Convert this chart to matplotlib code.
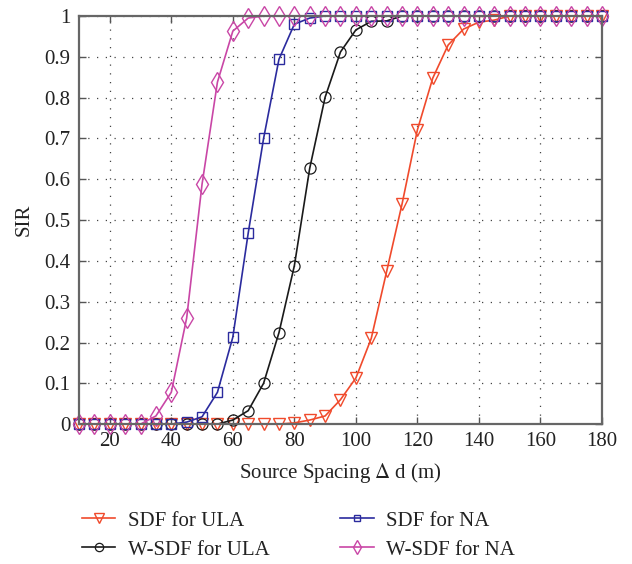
import matplotlib
matplotlib.use("Agg")
import matplotlib.pyplot as plt
import numpy as np

plt.rcParams['font.family'] = ['Liberation Serif', 'DejaVu Serif']
plt.rcParams['mathtext.fontset'] = 'stix'

spacing = list(range(10, 181, 5))

sdf_ula = [0, 0, 0, 0, 0, 0, 0, 0, 0, 0, 0, 0, 0, 0, 0.003, 0.01, 0.02, 0.06, 0.113, 0.21,
           0.374, 0.539, 0.721, 0.848, 0.929, 0.968, 0.985, 0.99, 1, 1, 1, 1, 1, 1, 1]
wsdf_ula = [0, 0, 0, 0, 0, 0, 0, 0, 0, 0, 0.01, 0.033, 0.1, 0.224, 0.388, 0.627, 0.801, 0.912,
            0.966, 0.987, 0.988, 1, 1, 1, 1, 1, 1, 1, 1, 1, 1, 1, 1, 1, 1]
sdf_na = [0, 0, 0, 0, 0, 0, 0, 0.005, 0.018, 0.078, 0.213, 0.468, 0.70, 0.894, 0.98, 0.995,
          1, 1, 1, 1, 1, 1, 1, 1, 1, 1, 1, 1, 1, 1, 1, 1, 1, 1, 1]
wsdf_na = [0, 0, 0, 0, 0, 0.02, 0.078, 0.26, 0.588, 0.838, 0.963, 0.995, 1, 1, 1, 1, 1, 1, 1,
           1, 1, 1, 1, 1, 1, 1, 1, 1, 1, 1, 1, 1, 1, 1, 1]

labels = ["SDF for ULA", "W-SDF for ULA", "SDF for NA", "W-SDF for NA"]

fig = plt.figure(figsize=(6.32, 5.64), dpi=100)
ax = fig.add_axes([0.125, 0.248, 0.8275, 0.7236])

kw = dict(lw=1.2, mfc='none', clip_on=False)
ax.plot(spacing, sdf_ula, color='#f04a2c', marker='v', ms=9, mew=1.0, label=labels[0], **kw)
ax.plot(spacing, wsdf_ula, color='#1a1a1a', marker='o', ms=8, mew=0.9, label=labels[1], **kw)
ax.plot(spacing, sdf_na, color='#2b2b9e', marker='s', ms=6.5, mew=1.0, label=labels[2], **kw)
ax.plot(spacing, wsdf_na, color='#c946a6', marker='d', ms=10, mew=1.0, label=labels[3], **kw)

ax.set_xlim(10, 180)
ax.set_ylim(0, 1)
ax.set_xticks(np.arange(20, 181, 20))
ax.set_yticks(np.arange(0, 1.01, 0.1))
ax.set_yticklabels(['0'] + [f'{v:.1f}' for v in np.arange(0.1, 0.95, 0.1)] + ['1'])
ax.grid(True, color='#444444', linestyle=(0, (1, 6)), lw=0.9)
ax.tick_params(direction='in', top=True, right=True, length=5, width=1, color='#555555',
               labelsize=15, labelcolor='#222222', pad=6)
for s in ax.spines.values():
    s.set_color('#666666')
    s.set_linewidth(1.6)

ax.set_xlabel('Source Spacing $\\Delta$ d (m)', fontsize=15, color='#222222', labelpad=7)
ax.set_ylabel('SIR', fontsize=15, color='#222222', labelpad=8)

fig.legend(loc='upper left', bbox_to_anchor=(0.1, 0.127), ncol=2, frameon=False,
           fontsize=15, handlelength=1.6, columnspacing=3.4, labelspacing=0.45,
           handletextpad=0.6, labelcolor='#222222', markerscale=0.75)

fig.savefig('out.png', dpi=100)
